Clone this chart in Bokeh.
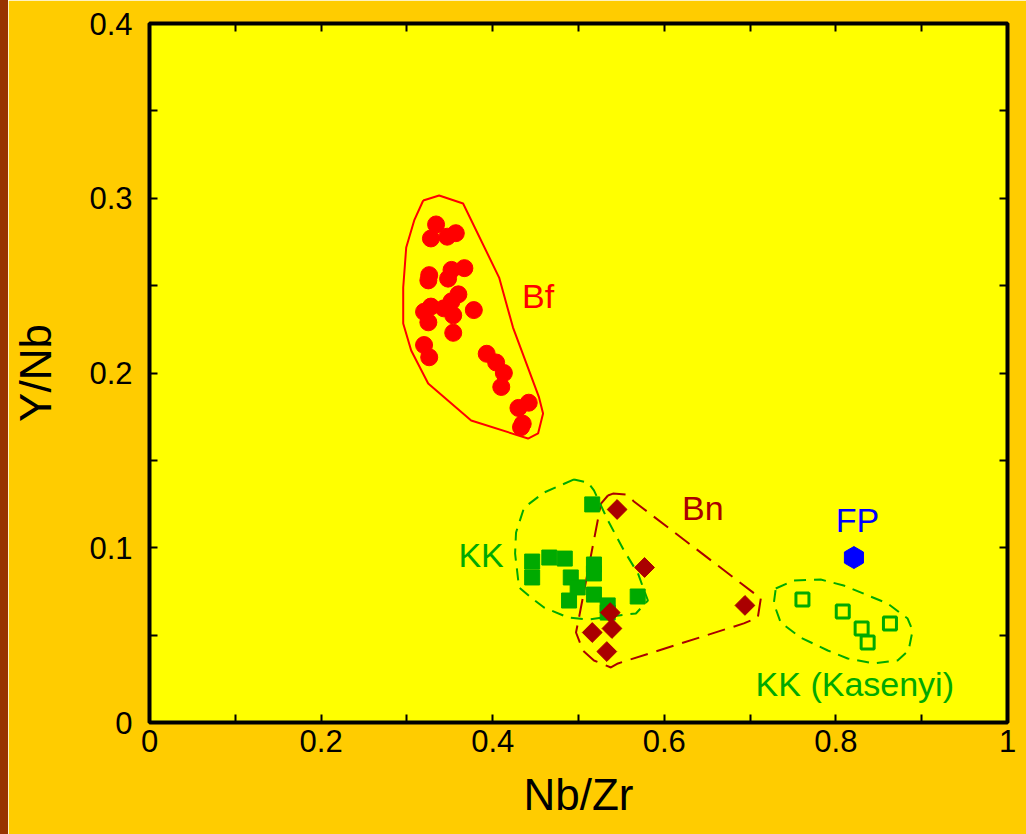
import numpy as np
from bokeh.plotting import figure
from bokeh.layouts import row
from bokeh.models import (Div, FixedTicker, NumeralTickFormatter, LinearAxis, Range1d,
                          CustomJSTickFormatter)
from bokeh.core.properties import value
from bokeh.embed import file_html
from bokeh.resources import INLINE

# ---- data ----
bf_x = [0.334, 0.328, 0.347, 0.357, 0.367, 0.352, 0.326, 0.325, 0.348, 0.360, 0.352,
        0.343, 0.328, 0.320, 0.354, 0.325, 0.378, 0.354, 0.320, 0.326, 0.393, 0.404,
        0.413, 0.410, 0.442, 0.430, 0.435, 0.433]
bf_y = [0.285, 0.277, 0.278, 0.280, 0.260, 0.259, 0.256, 0.253, 0.254, 0.245, 0.241,
        0.237, 0.238, 0.235, 0.233, 0.229, 0.236, 0.223, 0.216, 0.209, 0.211, 0.206,
        0.200, 0.192, 0.183, 0.180, 0.171, 0.169]

kk_x = [0.516, 0.446, 0.446, 0.466, 0.484, 0.491, 0.499, 0.489, 0.518, 0.518, 0.518,
        0.534, 0.534, 0.569]
kk_y = [0.1248, 0.0921, 0.0830, 0.0944, 0.0938, 0.0830, 0.0773, 0.0698, 0.0904, 0.0853,
        0.0732, 0.0670, 0.0629, 0.0721]

bn_x = [0.545, 0.577, 0.694, 0.537, 0.516, 0.539, 0.533]
bn_y = [0.1219, 0.0887, 0.0670, 0.0629, 0.0515, 0.0538, 0.0406]

kas_x = [0.761, 0.808, 0.830, 0.837, 0.863]
kas_y = [0.0704, 0.0635, 0.0538, 0.0458, 0.0567]

fp_x = [0.821]
fp_y = [0.0944]

# group outlines
bf_env_x = [0.3190, 0.3376, 0.3655, 0.4075, 0.4237, 0.4540, 0.4587, 0.4529, 0.4412,
            0.3749, 0.3248, 0.3050, 0.2957, 0.2957, 0.2992, 0.3085, 0.3190]
bf_env_y = [0.2987, 0.3016, 0.2970, 0.2546, 0.2260, 0.1860, 0.1768, 0.1654, 0.1625,
            0.1728, 0.1940, 0.2129, 0.2283, 0.2489, 0.2718, 0.2873, 0.2987]

bn_env_x = [0.5343, 0.5402, 0.5553, 0.5646, 0.7125, 0.7090, 0.6927, 0.5460, 0.5378,
            0.5180, 0.5052, 0.4971, 0.5006, 0.5262, 0.5343]
bn_env_y = [0.1299, 0.1310, 0.1305, 0.1265, 0.0710, 0.0601, 0.0567, 0.0338, 0.0315,
            0.0355, 0.0412, 0.0515, 0.0601, 0.1253, 0.1299]

kk_env_x = [0.4948, 0.4598, 0.4366, 0.4272, 0.4261, 0.4307, 0.4447, 0.4598, 0.4878,
            0.5111, 0.5378, 0.5669, 0.5809, 0.5693, 0.5530, 0.5343, 0.5180, 0.5111, 0.4948]
kk_env_y = [0.1391, 0.1316, 0.1230, 0.1087, 0.0967, 0.0773, 0.0715, 0.0658, 0.0601,
            0.0589, 0.0607, 0.0624, 0.0698, 0.0853, 0.0984, 0.1156, 0.1328, 0.1373, 0.1391]

kas_env_x = [0.7299, 0.7509, 0.7823, 0.8091, 0.8603, 0.8836, 0.8894, 0.8847, 0.8719,
             0.8440, 0.8137, 0.7905, 0.7590, 0.7357, 0.7276, 0.7299]
kas_env_y = [0.0767, 0.0813, 0.0818, 0.0784, 0.0681, 0.0595, 0.0526, 0.0412, 0.0355,
             0.0338, 0.0366, 0.0412, 0.0486, 0.0572, 0.0681, 0.0767]

labels = ["Bf", "Bn", "KK", "FP", "KK (Kasenyi)"]
label_x = [0.453, 0.645, 0.3865, 0.825, 0.822]
label_y = [0.244, 0.123, 0.0956, 0.1156, 0.0223]
label_colors = ["#FF0000", "#AA0000", "#00AA00", "#0000FF", "#00AA00"]

x_ticks = [0, 0.2, 0.4, 0.6, 0.8, 1.0]
x_minor = [0.1, 0.3, 0.5, 0.7, 0.9]
y_ticks = [0, 0.1, 0.2, 0.3, 0.4]
y_minor = [0.05, 0.15, 0.25, 0.35]

FONT = "Liberation Sans"

p = figure(width=1018, height=834, output_backend="svg", toolbar_location=None,
           x_range=Range1d(0, 1), y_range=Range1d(0, 0.4),
           min_border_left=140, min_border_right=19, min_border_top=23, min_border_bottom=112)
p.background_fill_color = "#FFFF00"
p.border_fill_color = "#FFCC00"
p.outline_line_color = "black"
p.outline_line_width = 4
p.grid.visible = False

def style_axis(ax, ticks, minor, show_labels=True):
    ax.ticker = FixedTicker(ticks=ticks, minor_ticks=minor)
    ax.axis_line_color = None
    ax.major_tick_in = 8
    ax.major_tick_out = 0
    ax.minor_tick_in = 8
    ax.minor_tick_out = 0
    ax.major_tick_line_width = 2
    ax.minor_tick_line_width = 2
    ax.major_tick_line_color = "black"
    ax.minor_tick_line_color = "black"
    ax.major_label_text_font = FONT
    ax.major_label_text_color = "black"
    if show_labels:
        ax.formatter = NumeralTickFormatter(format="0.[0]")
        ax.major_label_text_font_size = "31px"
    else:
        ax.formatter = CustomJSTickFormatter(code="return ''")
        ax.major_label_text_font_size = "10px"
        ax.major_label_standoff = 0

style_axis(p.xaxis[0], x_ticks, x_minor)
style_axis(p.yaxis[0], y_ticks, y_minor)
p.xaxis[0].major_label_standoff = 7
p.yaxis[0].major_label_standoff = 17
p.xaxis.axis_label = "Nb/Zr"
p.yaxis.axis_label = "Y/Nb"
for ax in (p.xaxis[0], p.yaxis[0]):
    ax.axis_label_text_font = FONT
    ax.axis_label_text_font_size = "44px"
    ax.axis_label_text_font_style = "normal"
    ax.axis_label_text_color = "black"
p.xaxis[0].axis_label_standoff = 15
p.yaxis[0].axis_label_standoff = 26

top = LinearAxis()
style_axis(top, x_ticks, x_minor, show_labels=False)
p.add_layout(top, "above")
right = LinearAxis()
style_axis(right, y_ticks, y_minor, show_labels=False)
p.add_layout(right, "right")

# outlines
p.line(bf_env_x, bf_env_y, line_color="#FF0000", line_width=2)
p.line(bn_env_x, bn_env_y, line_color="#AA0000", line_width=2, line_dash="18 9")
p.line(kk_env_x, kk_env_y, line_color="#00AA00", line_width=2, line_dash="12 8")
p.line(kas_env_x, kas_env_y, line_color="#00AA00", line_width=2, line_dash="12 8")

# points
p.scatter(bf_x, bf_y, marker="circle", size=17, fill_color="#FF0000", line_color="#FF0000")
p.scatter(kk_x, kk_y, marker="square", size=15, fill_color="#00AA00", line_color="#00AA00")
p.scatter(bn_x, bn_y, marker="square", size=14, angle=np.pi / 4,
          fill_color="#AA0000", line_color="#AA0000")
p.scatter(kas_x, kas_y, marker="square", size=13, fill_color=None,
          line_color="#00AA00", line_width=3)
p.scatter(fp_x, fp_y, marker="hex", size=22, angle=np.pi / 6,
          fill_color="#0000FF", line_color="#0000FF")

p.text(x=label_x, y=label_y, text=labels, text_color=label_colors,
       text_font=value(FONT), text_font_size="34px",
       text_align="center", text_baseline="middle")

strip = Div(width=8, height=834, margin=(0, 0, 0, 0),
            styles={"background-color": "#993300"})
layout = row(strip, p, spacing=0)

open("out.html", "w").write(file_html(layout, INLINE))
